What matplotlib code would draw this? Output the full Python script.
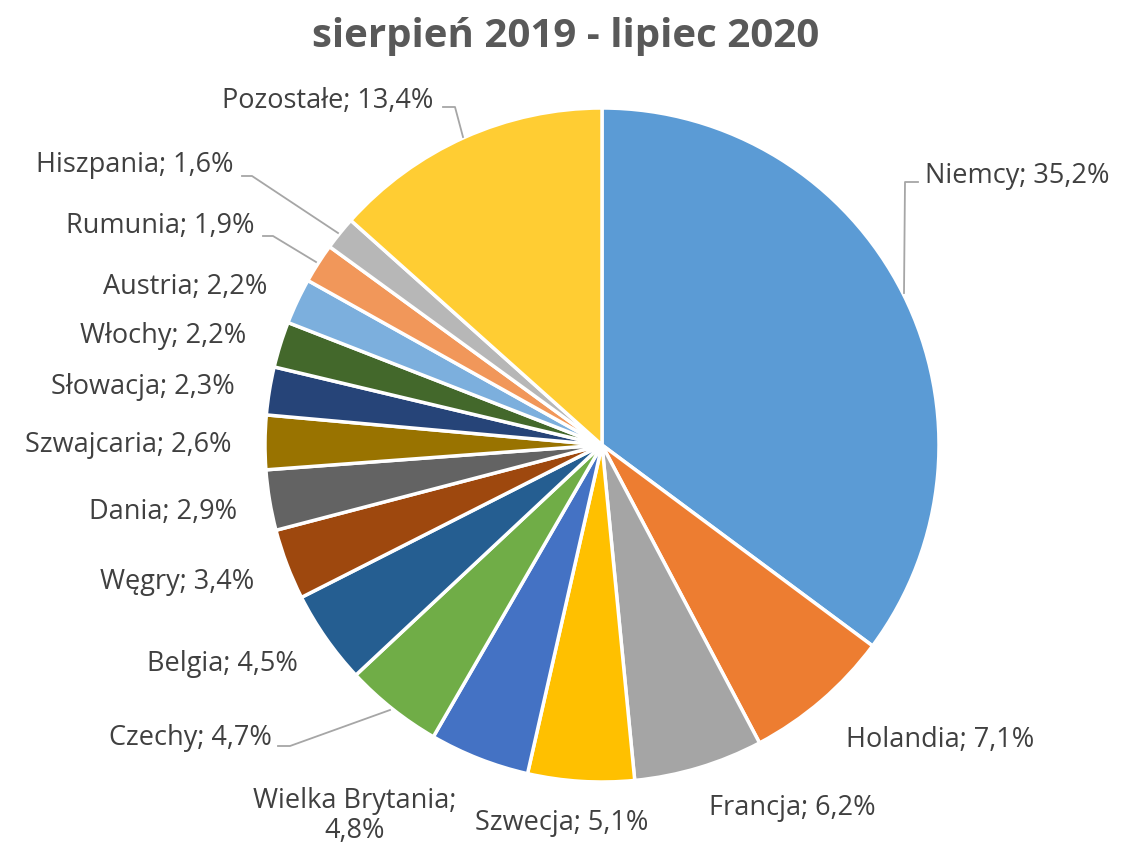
import matplotlib.pyplot as plt
import numpy as np

countries = ["Niemcy", "Holandia", "Francja", "Szwecja", "Wielka Brytania",
             "Czechy", "Belgia", "Węgry", "Dania", "Szwajcaria", "Słowacja",
             "Włochy", "Austria", "Rumunia", "Hiszpania", "Pozostałe"]
shares = [35.2, 7.1, 6.2, 5.1, 4.8, 4.7, 4.5, 3.4, 2.9, 2.6, 2.3,
          2.2, 2.2, 1.9, 1.6, 13.4]
colors = ["#5B9BD5", "#ED7D31", "#A5A5A5", "#FFC000", "#4472C4", "#70AD47",
          "#255E91", "#9E480E", "#636363", "#997300", "#264478", "#43682B",
          "#7CAFDD", "#F1975A", "#B7B7B7", "#FFCD33"]

# label centres (pixels, origin top-left)
label_px = [(1017, 176), (940, 740), (792, 808), (562, 823), (355, 816),
            (190, 738), (222, 664), (177, 582), (163, 512), (128, 445),
            (143, 387), (163, 336), (185, 287), (160, 226), (135, 165),
            (328, 101)]
# leader lines (pixels)
leaders = {
    "Niemcy": [(918, 182), (905, 182), (904, 293)],
    "Pozostałe": [(443, 107), (455, 107), (463, 137)],
    "Hiszpania": [(242, 176), (252, 176), (338, 233)],
    "Rumunia": [(263, 236), (273, 236), (316, 262)],
    "Czechy": [(278, 746), (290, 746), (390, 710)],
}

W, H = 1122, 846
cx, cy, R = 602, 445, 337

fig = plt.figure(figsize=(W / 100, H / 100), dpi=100)
ax = fig.add_axes([0, 0, 1, 1])


def to_data(p):
    return ((p[0] - cx) / R, (cy - p[1]) / R)


ax.pie(shares, colors=colors, startangle=90, counterclock=False, radius=1.0,
       wedgeprops=dict(edgecolor="white", linewidth=2.5))
ax.set_aspect("auto")
ax.set_xlim(-cx / R, (W - cx) / R)
ax.set_ylim(-(H - cy) / R, cy / R)
ax.axis("off")

font = "Open Sans"
for name, val, p in zip(countries, shares, label_px):
    val_txt = f"{val:.1f}%".replace(".", ",")
    if name == "Wielka Brytania":
        txt = f"{name};\n{val_txt}"
    else:
        txt = f"{name}; {val_txt}"
    x, y = to_data(p)
    ax.text(x, y, txt, ha="center", va="center", fontsize=19.5,
            color="#404040", family=font, linespacing=1.1)

for pts in leaders.values():
    xy = np.array([to_data(p) for p in pts])
    ax.plot(xy[:, 0], xy[:, 1], color="#A6A6A6", linewidth=1.3)

fig.text(566 / W, 1 - 36 / H, "sierpień 2019 - lipiec 2020", ha="center",
         va="center", fontsize=29, fontweight="bold", color="#595959",
         family=font)

fig.savefig("out.png", dpi=100)
